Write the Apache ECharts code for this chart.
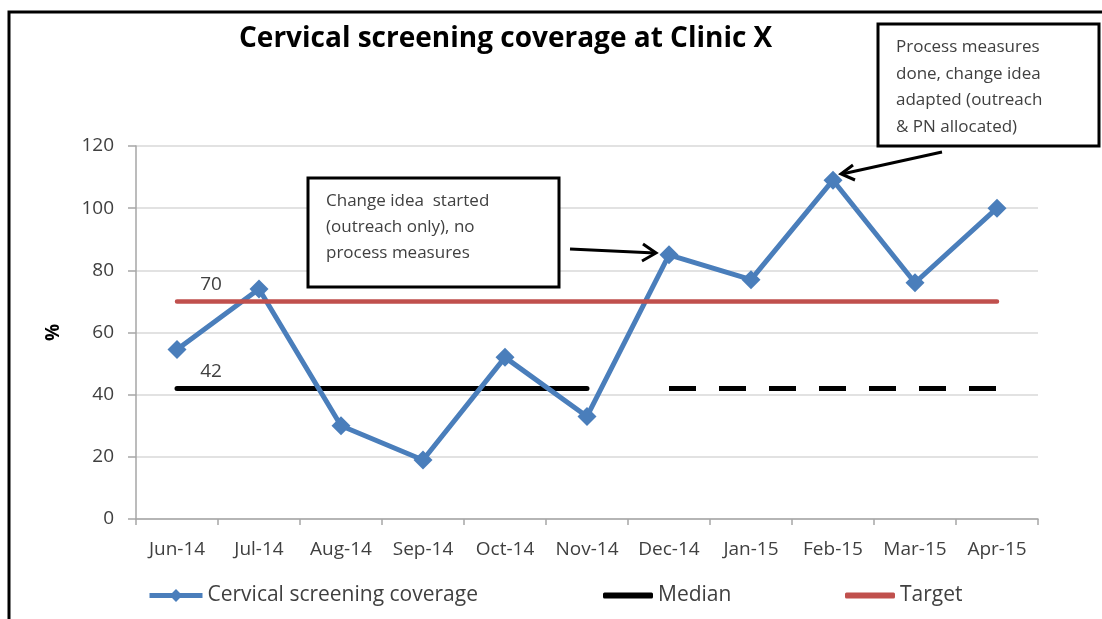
<!DOCTYPE html>
<html>
<head>
<meta charset="utf-8">
<script src="https://cdn.jsdelivr.net/npm/echarts@6/dist/echarts.min.js"></script>
<style>
html,body{margin:0;padding:0;background:#fff;}
#chart{width:1102px;height:619px;}
</style>
</head>
<body>
<div id="chart"></div>
<script>
var categories = ['Jun-14','Jul-14','Aug-14','Sep-14','Oct-14','Nov-14','Dec-14','Jan-15','Feb-15','Mar-15','Apr-15'];
var coverage = [54.5, 74, 30, 19, 52, 33, 85, 77, 109, 76, 100];
var medianSolid = [42, 42, 42, 42, 42, 42, null, null, null, null, null];
var medianDashed = [null, null, null, null, null, null, 42, 42, 42, 42, 42];
var target = [70, 70, 70, 70, 70, 70, 70, 70, 70, 70, 70];
var yTicks = [0, 20, 40, 60, 80, 100, 120];
var titleText = 'Cervical screening coverage at Clinic X';
var note1 = ['Change idea  started', '(outreach only), no', 'process measures'];
var note2 = ['Process measures', 'done, change idea', 'adapted (outreach', '& PN allocated)'];

var FONT = 'Open Sans';
var TXT = '#404040';
var chart = echarts.init(document.getElementById('chart'));

function valueMark(val) {
  return {
    symbol: 'circle', symbolSize: 1,
    itemStyle: { color: 'rgba(0,0,0,0)' },
    label: { show: true, position: 'top', distance: 7, offset: [34, 0],
      color: TXT, fontFamily: FONT, fontSize: 19, formatter: String(val) },
    data: [{ coord: [0, val], value: val }]
  };
}

var legendText = { fontFamily: FONT, fontSize: 21, color: TXT };

var option = {
  animation: false,
  backgroundColor: '#ffffff',
  title: {
    text: titleText, left: 234, top: 20,
    textStyle: { fontFamily: FONT, fontWeight: 'bold', fontSize: 28, color: '#000' }
  },
  grid: { left: 136, right: 64, top: 146, bottom: 100, containLabel: false },
  legend: [
    { left: 147, top: 585, padding: 0, data: ['Cervical screening coverage'], itemWidth: 53, itemHeight: 16, itemGap: 0,
      lineStyle: { width: 5 }, textStyle: legendText },
    { left: 603, top: 585, padding: 0, data: [{ name: 'Median', icon: 'roundRect' }], itemWidth: 50, itemHeight: 6,
      textStyle: legendText },
    { left: 845, top: 585, padding: 0, data: [{ name: 'Target', icon: 'roundRect' }], itemWidth: 50, itemHeight: 6,
      textStyle: legendText }
  ],
  xAxis: {
    type: 'category', data: categories, boundaryGap: true,
    axisLine: { lineStyle: { color: '#A6A6A6', width: 1.5 } },
    axisTick: { show: true, alignWithLabel: false, length: 6, lineStyle: { color: '#A6A6A6', width: 1.5 } },
    axisLabel: { fontFamily: FONT, fontSize: 19, color: TXT, margin: 21, interval: 0 },
    splitLine: { show: false }
  },
  yAxis: {
    type: 'value', min: yTicks[0], max: yTicks[yTicks.length - 1], interval: 20,
    name: '%', nameLocation: 'middle', nameGap: 73, nameRotate: 90,
    nameTextStyle: { fontFamily: FONT, fontSize: 19, color: '#000', fontWeight: 'bold' },
    axisLine: { show: true, lineStyle: { color: '#A6A6A6', width: 1.5 } },
    axisTick: { show: true, length: 8, lineStyle: { color: '#A6A6A6', width: 1.5 } },
    axisLabel: { fontFamily: FONT, fontSize: 19, color: TXT, margin: 22 },
    splitLine: { show: true, lineStyle: { color: '#D9D9D9', width: 1.5 } }
  },
  series: [
    { name: 'Median', type: 'line', data: medianSolid, symbol: 'none', z: 2,
      lineStyle: { color: '#000000', width: 5, cap: 'round' }, itemStyle: { color: '#000000' },
      markPoint: valueMark(medianSolid[0]) },
    { name: 'Median', type: 'line', data: medianDashed, symbol: 'none', z: 2,
      lineStyle: { color: '#000000', width: 5, type: [27, 23], cap: 'butt' }, itemStyle: { color: '#000000' } },
    { name: 'Cervical screening coverage', type: 'line', data: coverage, z: 3,
      symbol: 'diamond', symbolSize: 19,
      lineStyle: { color: '#4A7EBB', width: 5 }, itemStyle: { color: '#4A7EBB' } },
    { name: 'Target', type: 'line', data: target, symbol: 'none', z: 4,
      lineStyle: { color: '#C0504D', width: 4.5, cap: 'round' }, itemStyle: { color: '#C0504D' },
      markPoint: valueMark(target[0]) }
  ],
  graphic: [
    { type: 'rect', z: 0, shape: { x: 9, y: 12, width: 1100, height: 620 },
      style: { fill: 'none', stroke: '#000', lineWidth: 3 }, silent: true },
    { type: 'rect', z: 50, shape: { x: 308, y: 178, width: 251, height: 109 },
      style: { fill: '#fff', stroke: '#000', lineWidth: 3 } },
    { type: 'text', z: 51, x: 326, y: 188,
      style: { text: note1.join('\n'), font: '17px "Open Sans"', fill: TXT, lineHeight: 26 } },
    { type: 'rect', z: 50, shape: { x: 878, y: 24, width: 221, height: 122 },
      style: { fill: '#fff', stroke: '#000', lineWidth: 3 } },
    { type: 'text', z: 51, x: 896, y: 34,
      style: { text: note2.join('\n'), font: '17px "Open Sans"', fill: TXT, lineHeight: 26.5 } },
    { type: 'polyline', z: 51, shape: { points: [[570, 249], [655, 253]] },
      style: { stroke: '#000', lineWidth: 3, fill: 'none' } },
    { type: 'polyline', z: 51, shape: { points: [[643, 244], [656, 253], [642, 261]] },
      style: { stroke: '#000', lineWidth: 3, fill: 'none', lineJoin: 'miter' } },
    { type: 'polyline', z: 51, shape: { points: [[942, 152], [842, 174]] },
      style: { stroke: '#000', lineWidth: 3, fill: 'none' } },
    { type: 'polyline', z: 51, shape: { points: [[853, 165], [841, 174], [855, 180]] },
      style: { stroke: '#000', lineWidth: 3, fill: 'none', lineJoin: 'miter' } }
  ]
};
chart.setOption(option);
</script>
</body>
</html>
